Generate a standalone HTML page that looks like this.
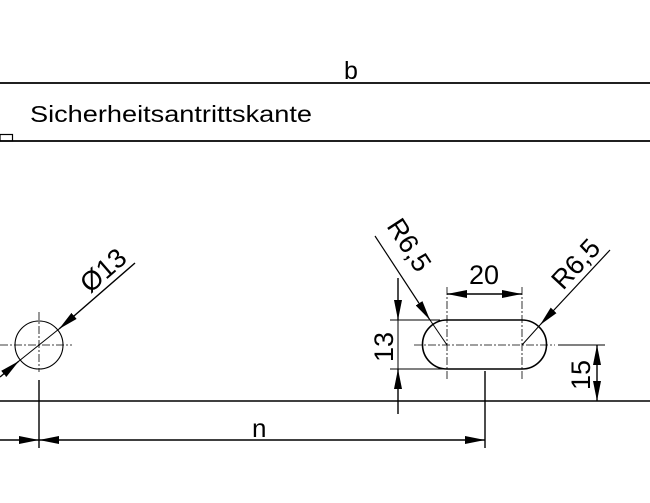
<!DOCTYPE html>
<html><head><meta charset="utf-8"><style>body{margin:0;background:#fff}svg{display:block}</style></head><body>
<svg width="650" height="503" viewBox="0 0 650 503" xmlns="http://www.w3.org/2000/svg" font-family="Liberation Sans, Arial, sans-serif">
<defs>
<marker id="a" viewBox="0 0 20 8" refX="20" refY="4" markerWidth="20" markerHeight="8" markerUnits="userSpaceOnUse" orient="auto-start-reverse"><path d="M0,0L20,4L0,8z" fill="#000"/></marker>
</defs>
<g stroke="#000" fill="none">
<line x1="0" y1="83" x2="650" y2="83" stroke-width="1.8"/>
<line x1="0" y1="141" x2="650" y2="141" stroke-width="1.8"/>
<rect x="0" y="134.5" width="12.5" height="6.5" stroke-width="1.2"/>
<line x1="0" y1="401" x2="650" y2="401" stroke-width="1.6"/>
<!-- circle -->
<circle cx="39" cy="345" r="24" stroke-width="1.1"/>
<line x1="0" y1="345" x2="72" y2="345" stroke-width="0.8" stroke-dasharray="8,2,2,2"/>
<line x1="39" y1="312" x2="39" y2="372" stroke-width="0.8" stroke-dasharray="8,2,2,2"/>
<line x1="39" y1="380" x2="39" y2="448" stroke-width="1.4"/>
<line x1="135" y1="263" x2="59" y2="329" stroke-width="1.4" marker-end="url(#a)"/>
<line x1="59" y1="329" x2="19" y2="361" stroke-width="1"/>
<line x1="0" y1="377" x2="19" y2="361" stroke-width="1.4" marker-end="url(#a)"/>
<!-- n dim -->
<line x1="0" y1="440" x2="39" y2="440" stroke-width="1.4" marker-end="url(#a)"/>
<line x1="39" y1="440" x2="485" y2="440" stroke-width="1.4" marker-start="url(#a)" marker-end="url(#a)"/>
<line x1="485" y1="371" x2="485" y2="448" stroke-width="1.4"/>
<!-- slot -->
<path d="M447,320 L522,320 A24.5,24.5 0 0 1 522,369 L447,369 A24.5,24.5 0 0 1 447,320 Z" stroke-width="1.6"/>
<line x1="414" y1="345" x2="555" y2="345" stroke-width="0.8" stroke-dasharray="8,2,2,2"/>
<line x1="447" y1="287" x2="447" y2="380" stroke-width="0.8" stroke-dasharray="8,2,2,2"/>
<line x1="522" y1="287" x2="522" y2="380" stroke-width="0.8" stroke-dasharray="8,2,2,2"/>
<line x1="447" y1="294" x2="522" y2="294" stroke-width="1.4" marker-start="url(#a)" marker-end="url(#a)"/>
<line x1="390" y1="320" x2="440" y2="320" stroke-width="1"/>
<line x1="390" y1="369" x2="444" y2="369" stroke-width="1"/>
<line x1="398" y1="278" x2="398" y2="320" stroke-width="1.4" marker-end="url(#a)"/>
<line x1="398" y1="414" x2="398" y2="369" stroke-width="1.4" marker-end="url(#a)"/>
<line x1="398" y1="320" x2="398" y2="369" stroke-width="1"/>
<line x1="558" y1="345" x2="605" y2="345" stroke-width="1"/>
<line x1="597" y1="345" x2="597" y2="401" stroke-width="1.4" marker-start="url(#a)" marker-end="url(#a)"/>
<line x1="375" y1="236" x2="430" y2="320" stroke-width="1.2" marker-end="url(#a)"/>
<line x1="430" y1="320" x2="447" y2="345" stroke-width="1"/>
<line x1="610" y1="250" x2="540" y2="325" stroke-width="1.2" marker-end="url(#a)"/>
<line x1="540" y1="325" x2="522" y2="345" stroke-width="1"/>
</g>
<g fill="#000">
<text x="344" y="79" font-size="25">b</text>
<text x="30" y="122" font-size="23" textLength="282" lengthAdjust="spacingAndGlyphs">Sicherheitsantrittskante</text>
<text x="252" y="437" font-size="26">n</text>
<text x="469" y="284" font-size="27">20</text>
<text font-size="27" transform="translate(90,294) rotate(-41)">Ø13</text>
<text font-size="27" transform="translate(386,226) rotate(57)">R6,5</text>
<text font-size="27" transform="translate(563,291) rotate(-47)">R6,5</text>
<text font-size="27" transform="translate(393,362) rotate(-90)">13</text>
<text font-size="27" transform="translate(590,390) rotate(-90)">15</text>
</g>
</svg>
</body></html>
